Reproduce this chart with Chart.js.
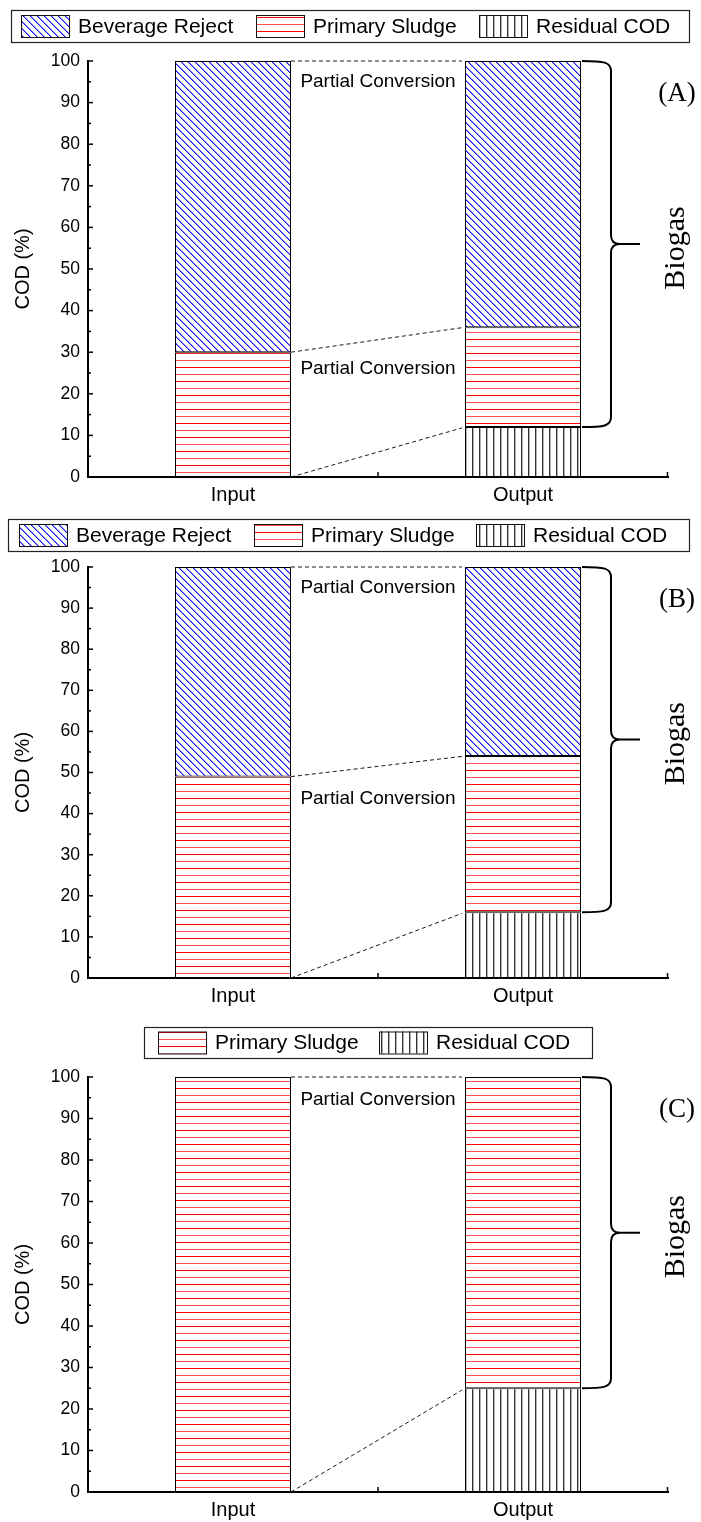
<!DOCTYPE html>
<html><head><meta charset="utf-8">
<script src="https://cdn.jsdelivr.net/npm/chart.js@4.4.1/dist/chart.umd.min.js"></script>
<style>
html,body{margin:0;padding:0;background:#fff;}
body{width:701px;height:1522px;position:relative;overflow:hidden;}
canvas{position:absolute;left:0;}
</style></head><body>
<canvas id="cA" width="701" height="515" style="top:0px;width:701px;height:515px"></canvas>
<canvas id="cB" width="701" height="500" style="top:515px;width:701px;height:500px"></canvas>
<canvas id="cC" width="701" height="507" style="top:1015px;width:701px;height:507px"></canvas>
<script>
// ---------------- data ----------------
const categories = ['Input', 'Output'];
const yTickValues = [0, 10, 20, 30, 40, 50, 60, 70, 80, 90, 100];
const seriesNames = ['Beverage Reject', 'Primary Sludge', 'Residual COD'];

// Panel A
const aBeverage = [70, 64];
const aPrimary  = [30, 24];
const aResidual = [0, 12];
const aLinkFrom = [100, 30, 0];
const aLinkTo   = [100, 36, 12];
const aNoteAt   = [95, 26];

// Panel B
const bBeverage = [51, 46];
const bPrimary  = [49, 38];
const bResidual = [0, 16];
const bLinkFrom = [100, 49, 0];
const bLinkTo   = [100, 54, 16];
const bNoteAt   = [95, 43.5];

// Panel C
const cPrimary  = [100, 75];
const cResidual = [0, 25];
const cLinkFrom = [100, 0];
const cLinkTo   = [100, 25];
const cNoteAt   = [94.5];

const noteText = 'Partial Conversion';
const braceText = 'Biogas';
const panelTags = ['(A)', '(B)', '(C)'];
const yTitle = 'COD (%)';

// ---------------- styling ----------------
const SANS = "'Liberation Sans', Arial, sans-serif";
const SERIF = "'Liberation Serif', 'Times New Roman', serif";

function makePattern(w, h, draw) {
  const c = document.createElement('canvas');
  c.width = w; c.height = h;
  const g = c.getContext('2d');
  g.fillStyle = '#fff'; g.fillRect(0, 0, w, h);
  draw(g);
  return g.createPattern(c, 'repeat');
}
const patDiag = makePattern(7, 7, g => {
  for (let i = 0; i < 7; i++) {
    g.fillStyle = '#1010ff'; g.fillRect(i, i, 1, 1);
    g.fillStyle = '#8c8cff'; g.fillRect((i + 1) % 7, i, 1, 1);
  }
});
const patHoriz = makePattern(8, 14, g => {
  g.fillStyle = '#ff0000'; g.fillRect(0, 3, 8, 1);
  g.fillStyle = '#ff5050'; g.fillRect(0, 10, 8, 1);
});
const patVert = makePattern(7, 8, g => {
  g.fillStyle = '#333333'; g.fillRect(3, 0, 1, 8);
  g.fillStyle = '#b0b0b0'; g.fillRect(4, 0, 1, 8);
});
const fills = {'Beverage Reject': patDiag, 'Primary Sludge': patHoriz, 'Residual COD': patVert};

function ds(label, data) {
  return {label, data, backgroundColor: fills[label], borderColor: '#000', borderWidth: 1,
    borderSkipped: false, categoryPercentage: 0.4, barPercentage: 1};
}

const panels = [
  {id: 'cA', tag: panelTags[0], top: 61, padBottom: 8,
   datasets: [ds(seriesNames[2], aResidual), ds(seriesNames[1], aPrimary), ds(seriesNames[0], aBeverage)],
   linkFrom: aLinkFrom, linkTo: aLinkTo, notes: aNoteAt,
   legendBox: [11, 10, 689, 42], swatchX: [21, 256, 479]},
  {id: 'cB', tag: panelTags[1], top: 52, padBottom: 7,
   datasets: [ds(seriesNames[2], bResidual), ds(seriesNames[1], bPrimary), ds(seriesNames[0], bBeverage)],
   linkFrom: bLinkFrom, linkTo: bLinkTo, notes: bNoteAt,
   legendBox: [8, 4, 689, 36], swatchX: [19, 254, 476]},
  {id: 'cC', tag: panelTags[2], top: 62, padBottom: 0,
   datasets: [ds(seriesNames[2], cResidual), ds(seriesNames[1], cPrimary)],
   linkFrom: cLinkFrom, linkTo: cLinkTo, notes: cNoteAt,
   legendBox: [144, 12, 592, 43], swatchX: [158, 379]}
];

function drawBrace(ctx, x0, yT, yB) {
  const xv = x0 + 29, xt = x0 + 58, ym = (yT + yB) / 2;
  ctx.beginPath();
  ctx.moveTo(x0, yT);
  ctx.bezierCurveTo(x0 + 22, yT, xv, yT + 1, xv, yT + 10);
  ctx.lineTo(xv, ym - 9);
  ctx.quadraticCurveTo(xv, ym, xv + 9, ym);
  ctx.lineTo(xt, ym);
  ctx.moveTo(xv + 9, ym);
  ctx.quadraticCurveTo(xv, ym, xv, ym + 9);
  ctx.lineTo(xv, yB - 10);
  ctx.bezierCurveTo(xv, yB - 1, x0 + 22, yB, x0, yB);
  ctx.stroke();
  return {xt, ym};
}

const decor = {
  id: 'decor',
  afterDraw(chart, args, o) {
    const ctx = chart.ctx, area = chart.chartArea;
    const ys = chart.scales.y, xs = chart.scales.x;
    ctx.save();
    // inward y ticks (major + minor)
    ctx.strokeStyle = '#000'; ctx.lineWidth = 1.5;
    for (let k = 0; k < yTickValues.length; k++) {
      const v = yTickValues[k];
      let py = ys.getPixelForValue(v);
      ctx.beginPath(); ctx.moveTo(area.left, py); ctx.lineTo(area.left + 5, py); ctx.stroke();
      if (k < yTickValues.length - 1) {
        py = ys.getPixelForValue((v + yTickValues[k + 1]) / 2);
        ctx.beginPath(); ctx.moveTo(area.left, py); ctx.lineTo(area.left + 3, py); ctx.stroke();
      }
    }
    // x ticks: category boundary and axis end (pointing up)
    [xs.getPixelForValue(0.5), area.right - 0.5].forEach(px => {
      ctx.beginPath(); ctx.moveTo(px, area.bottom); ctx.lineTo(px, area.bottom - 5); ctx.stroke();
    });

    // bar geometry from library
    const meta = chart.getDatasetMeta(0);
    const inBar = meta.data[0], outBar = meta.data[1];
    const inRight = inBar.x + inBar.width / 2;
    const outLeft = outBar.x - outBar.width / 2;
    const outRight = outBar.x + outBar.width / 2;

    // dashed connectors
    ctx.strokeStyle = '#1a1a1a'; ctx.lineWidth = 1; ctx.setLineDash([4, 3]);
    o.linkFrom.forEach((v, i) => {
      const y1 = ys.getPixelForValue(v), y2 = ys.getPixelForValue(o.linkTo[i]);
      ctx.beginPath(); ctx.moveTo(inRight, y1); ctx.lineTo(outLeft - 3, y2 + (y1 - y2) * 3 / (outLeft - inRight)); ctx.stroke();
    });
    ctx.setLineDash([]);

    // notes
    ctx.fillStyle = '#000';
    ctx.font = '19px ' + SANS; ctx.textAlign = 'center'; ctx.textBaseline = 'middle';
    o.notes.forEach(v => ctx.fillText(noteText, (inRight + outLeft) / 2, ys.getPixelForValue(v)));

    // brace from top of output bar down to top of residual
    const residualTop = o.linkTo[o.linkTo.length - 1];
    ctx.strokeStyle = '#000'; ctx.lineWidth = 2;
    const b = drawBrace(ctx, outRight + 1, ys.getPixelForValue(100), ys.getPixelForValue(residualTop));
    ctx.save();
    ctx.translate(b.xt + 36, b.ym + 4); ctx.rotate(-Math.PI / 2);
    ctx.font = '30px ' + SERIF; ctx.textAlign = 'center'; ctx.textBaseline = 'middle';
    ctx.fillText(braceText, 0, 0);
    ctx.restore();

    // panel tag
    ctx.font = '27px ' + SERIF; ctx.textAlign = 'center'; ctx.textBaseline = 'middle';
    ctx.fillText(o.tag, 677, area.top + 33);

    // legend
    const [lx1, ly1, lx2, ly2] = o.legendBox;
    ctx.strokeStyle = '#222'; ctx.lineWidth = 1.2;
    ctx.strokeRect(lx1 + 0.5, ly1 + 0.5, lx2 - lx1, ly2 - ly1);
    const items = chart.data.datasets.slice().reverse();
    const cy = (ly1 + ly2) / 2;
    ctx.font = '21px ' + SANS; ctx.textAlign = 'left'; ctx.textBaseline = 'middle';
    items.forEach((d, i) => {
      const sx = o.swatchX[i];
      ctx.fillStyle = d.backgroundColor;
      ctx.fillRect(sx, cy - 11, 48, 22);
      ctx.strokeStyle = '#111'; ctx.lineWidth = 1;
      ctx.strokeRect(sx + 0.5, cy - 11 + 0.5, 48, 22);
      ctx.fillStyle = '#000';
      ctx.fillText(d.label, sx + 57, cy + 1);
    });
    ctx.restore();
  }
};

panels.forEach(p => {
  new Chart(document.getElementById(p.id), {
    type: 'bar',
    data: {labels: categories, datasets: p.datasets},
    options: {
      responsive: false, animation: false, devicePixelRatio: 1,
      layout: {padding: {top: p.top, bottom: p.padBottom, left: 0, right: 33}},
      scales: {
        x: {
          stacked: true,
          grid: {display: false, drawTicks: false},
          border: {display: true, color: '#000', width: 2},
          ticks: {color: '#000', font: {family: SANS, size: 20}, padding: 6},
          afterFit(s) { s.height = 30; }
        },
        y: {
          stacked: true, min: 0, max: 100,
          afterBuildTicks(s) { s.ticks = yTickValues.map(v => ({value: v})); },
          grid: {display: false, drawTicks: false},
          border: {display: true, color: '#000', width: 2},
          ticks: {color: '#000', font: {family: SANS, size: 17.5}, padding: 8},
          title: {display: true, text: yTitle, color: '#000', font: {family: SANS, size: 20}, padding: {top: 11, bottom: 0}},
          afterFit(s) { s.width = 88; }
        }
      },
      plugins: {
        legend: {display: false},
        tooltip: {enabled: false},
        decor: {tag: p.tag, linkFrom: p.linkFrom, linkTo: p.linkTo, notes: p.notes,
                legendBox: p.legendBox, swatchX: p.swatchX}
      }
    },
    plugins: [decor]
  });
});
</script>
</body></html>
